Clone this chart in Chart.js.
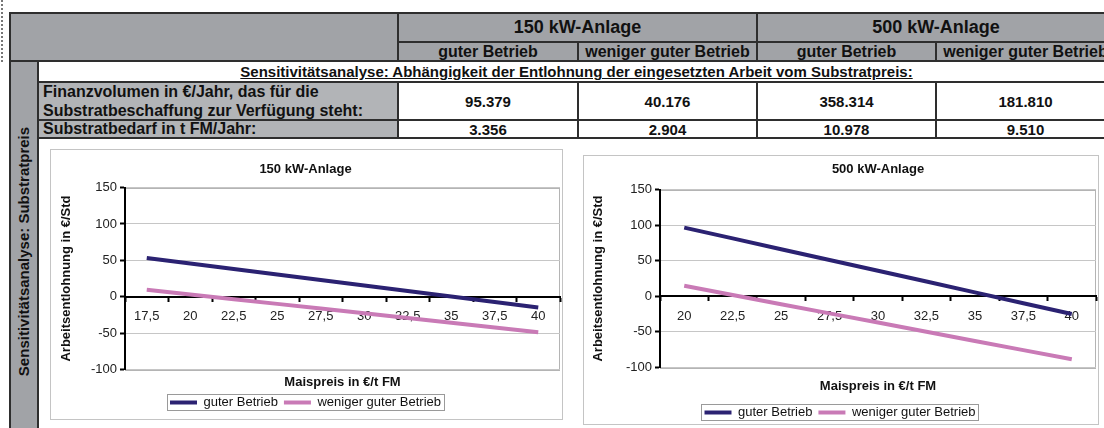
<!DOCTYPE html>
<html lang="de">
<head>
<meta charset="utf-8">
<title>Sensitivitätsanalyse Substratpreis</title>
<script src="https://cdn.jsdelivr.net/npm/chart.js@4.4.1/dist/chart.umd.min.js"></script>
<style>
  html, body { margin: 0; padding: 0; background: #fff; }
  body { width: 1104px; height: 428px; position: relative; overflow: hidden;
         font-family: "Liberation Sans", Arial, sans-serif; color: #111; }
  .c { position: absolute; box-sizing: border-box; border: 1px solid #2e2e2e; display: flex;
       align-items: center; justify-content: center; font-weight: bold; white-space: nowrap; }
  .hd { background: #a1a3a7; }
  .lb { background: #b2b4b7; justify-content: flex-start; padding-left: 4px; font-size: 16px; }
  .wh { background: #fff; }
  .val { font-size: 15px; }
  .box { position: absolute; box-sizing: border-box; border: 1px solid #c4c4c4; background: #fff; }
  canvas { position: absolute; }
</style>
</head>
<body>
<div style="position:absolute;left:1px;top:0;height:62px;border-left:2px dotted #777;"></div>
<div style="position:absolute;left:9px;top:12px;width:1110px;height:440px;border:1px solid #2e2e2e;box-sizing:border-box;"></div>

<!-- Kopfzeilen -->
<div class="c hd" style="left:10px;top:13px;width:388px;height:48px;"></div>
<div class="c hd" style="left:398px;top:13px;width:359px;height:29px;font-size:18px;">150 kW-Anlage</div>
<div class="c hd" style="left:757px;top:13px;width:358px;height:29px;font-size:18px;">500 kW-Anlage</div>
<div class="c hd" style="left:398px;top:42px;width:180px;height:19px;font-size:16px;">guter Betrieb</div>
<div class="c hd" style="left:578px;top:42px;width:179px;height:19px;font-size:16px;">weniger guter Betrieb</div>
<div class="c hd" style="left:757px;top:42px;width:179px;height:19px;font-size:16px;">guter Betrieb</div>
<div class="c hd" style="left:936px;top:42px;width:179px;height:19px;font-size:16px;">weniger guter Betrieb</div>

<!-- linke Spalte -->
<div class="c hd" style="left:10px;top:61px;width:28px;height:380px;font-size:15px;">
  <span style="display:inline-block;transform:rotate(-90deg);">Sensitivitätsanalyse: Substratpreis</span>
</div>

<div class="c wh" style="left:38px;top:61px;width:1077px;height:21px;font-size:15px;text-decoration:underline;">Sensitivitätsanalyse: Abhängigkeit der Entlohnung der eingesetzten Arbeit vom Substratpreis:</div>

<div class="c lb" style="left:38px;top:82px;width:360px;height:38px;line-height:19px;">Finanzvolumen in €/Jahr, das für die<br>Substratbeschaffung zur Verfügung steht:</div>
<div class="c wh val" style="left:398px;top:82px;width:180px;height:38px;">95.379</div>
<div class="c wh val" style="left:578px;top:82px;width:179px;height:38px;">40.176</div>
<div class="c wh val" style="left:757px;top:82px;width:179px;height:38px;">358.314</div>
<div class="c wh val" style="left:936px;top:82px;width:179px;height:38px;">181.810</div>

<div class="c lb" style="left:38px;top:120px;width:360px;height:18px;">Substratbedarf in t FM/Jahr:</div>
<div class="c wh val" style="left:398px;top:120px;width:180px;height:18px;">3.356</div>
<div class="c wh val" style="left:578px;top:120px;width:179px;height:18px;">2.904</div>
<div class="c wh val" style="left:757px;top:120px;width:179px;height:18px;">10.978</div>
<div class="c wh val" style="left:936px;top:120px;width:179px;height:18px;">9.510</div>

<div class="c wh" style="left:38px;top:138px;width:1077px;height:303px;"></div>

<div class="box" style="left:50px;top:149px;width:513px;height:271px;"></div>
<div class="box" style="left:583px;top:155px;width:516px;height:270px;"></div>
<canvas id="chart150" width="511" height="269" style="left:51px;top:150px;"></canvas>
<canvas id="chart500" width="514" height="273" style="left:584px;top:156px;"></canvas>

<script>
// Maispreis in €/t FM (Kategorien)
const preise150 = ['17,5', '20', '22,5', '25', '27,5', '30', '32,5', '35', '37,5', '40'];
const preise500 = ['20', '22,5', '25', '27,5', '30', '32,5', '35', '37,5', '40'];

// Arbeitsentlohnung in €/Std
const gut150 = [53.1, 45.6, 38.0, 30.5, 22.9, 15.4, 7.8, 0.3, -7.3, -14.8];
const weniger150 = [9.6, 3.1, -3.4, -9.9, -16.4, -22.9, -29.4, -36.0, -42.5, -49.0];
const gut500 = [96.6, 81.4, 66.2, 51.0, 35.9, 20.7, 5.5, -9.7, -24.9];
const weniger500 = [14.7, 1.8, -11.1, -24.0, -36.9, -49.9, -62.8, -75.7, -88.6];

const seriesNames = ['guter Betrieb', 'weniger guter Betrieb'];
const seriesColors = ['#2b2272', '#c97ab6'];
const yTicks = { min: -100, max: 150, step: 50 };

Chart.defaults.font.family = '"Liberation Sans", Arial, sans-serif';
Chart.defaults.color = '#111';

// grauer Rahmen um die Zeichenfläche
const plotFrame = {
    id: 'plotFrame',
    beforeDraw(chart) {
        const a = chart.chartArea;
        const ctx = chart.ctx;
        ctx.save();
        ctx.strokeStyle = '#b4b4b4';
        ctx.lineWidth = 1;
        ctx.strokeRect(Math.round(a.left) + 0.5, Math.round(a.top) + 0.5,
            Math.round(a.right - a.left) - 1, Math.round(a.bottom - a.top));
        ctx.restore();
    }
};

// Rahmen um die Legende
const legendFrame = {
    id: 'legendFrame',
    afterDraw(chart) {
        const boxes = chart.legend && chart.legend.legendHitBoxes;
        if (!boxes || !boxes.length) return;
        let l = Infinity, r = -Infinity, t = Infinity, b = -Infinity;
        for (const h of boxes) {
            l = Math.min(l, h.left);
            r = Math.max(r, h.left + h.width);
            t = Math.min(t, h.top);
            b = Math.max(b, h.top + h.height);
        }
        const ctx = chart.ctx;
        ctx.save();
        ctx.strokeStyle = '#9a9a9a';
        ctx.lineWidth = 1;
        ctx.strokeRect(Math.round(l - 3) + 0.5, Math.round(t - 2) + 0.5,
            Math.round(r - l + 6), Math.round(b - t + 3));
        ctx.restore();
    }
};

function makeChart(id, title, labels, gut, weniger, lay) {
    const ctx = document.getElementById(id).getContext('2d');
    return new Chart(ctx, {
        type: 'line',
        data: {
            labels: labels,
            datasets: [gut, weniger].map((d, i) => ({
                label: seriesNames[i],
                data: d,
                borderColor: seriesColors[i],
                backgroundColor: seriesColors[i],
                borderWidth: 4,
                pointRadius: 0,
                pointHoverRadius: 0,
                tension: 0,
                fill: false
            }))
        },
        options: {
            responsive: false,
            animation: false,
            events: [],
            layout: { padding: { right: lay.right } },
            plugins: {
                title: {
                    display: true,
                    text: title,
                    fullSize: lay.titleFull,
                    font: { size: 13, weight: 'bold' },
                    padding: { top: lay.titleTop, bottom: lay.titleBottom }
                },
                subtitle: {
                    display: true,
                    text: 'Maispreis in €/t FM',
                    position: 'bottom',
                    fullSize: false,
                    weight: 500,
                    font: { size: 13, weight: 'bold' },
                    color: '#111',
                    padding: { top: lay.subTop, bottom: lay.subBottom }
                },
                legend: {
                    position: 'bottom',
                    labels: {
                        boxWidth: 27,
                        boxHeight: 4,
                        padding: 6,
                        font: { size: 13 },
                        color: '#111',
                        generateLabels(chart) {
                            return Chart.defaults.plugins.legend.labels.generateLabels(chart)
                                .map(item => Object.assign(item, { lineWidth: 0 }));
                        }
                    }
                },
                tooltip: { enabled: false }
            },
            scales: {
                x: {
                    type: 'category',
                    position: { y: 0 },
                    offset: true,
                    grid: {
                        offset: true,
                        drawOnChartArea: false,
                        drawTicks: true,
                        tickLength: 4,
                        tickWidth: 2,
                        tickColor: '#000'
                    },
                    border: { color: '#000', width: 2 },
                    ticks: { padding: 8, font: { size: 13 }, color: '#222', maxRotation: 0, autoSkip: false }
                },
                y: {
                    min: yTicks.min,
                    max: yTicks.max,
                    ticks: { stepSize: yTicks.step, padding: 3, font: { size: 13 }, color: '#222' },
                    grid: {
                        color: c => (c.tick && c.tick.value === 0) ? 'rgba(0,0,0,0)' : '#c6c6c6',
                        lineWidth: 1,
                        tickLength: 5,
                        tickWidth: 2,
                        tickColor: '#000'
                    },
                    border: { color: '#000', width: 2 },
                    title: {
                        display: true,
                        text: 'Arbeitsentlohnung in €/Std',
                        font: { size: 13, weight: 'bold' },
                        color: '#111',
                        padding: { top: lay.yTitle, bottom: 0 }
                    },
                    afterFit(scale) {
                        scale.width = lay.axisWidth;
                    }
                }
            }
        },
        plugins: [plotFrame, legendFrame]
    });
}

makeChart('chart150', '150 kW-Anlage', preise150, gut150, weniger150, {
    right: 2, titleFull: true, titleTop: 12, titleBottom: 10, subTop: 5, subBottom: 0, yTitle: 8, axisWidth: 74
});
makeChart('chart500', '500 kW-Anlage', preise500, gut500, weniger500, {
    right: 2, titleFull: false, titleTop: 6, titleBottom: 12, subTop: 11, subBottom: 6, yTitle: 7, axisWidth: 76
});
</script>
</body>
</html>
